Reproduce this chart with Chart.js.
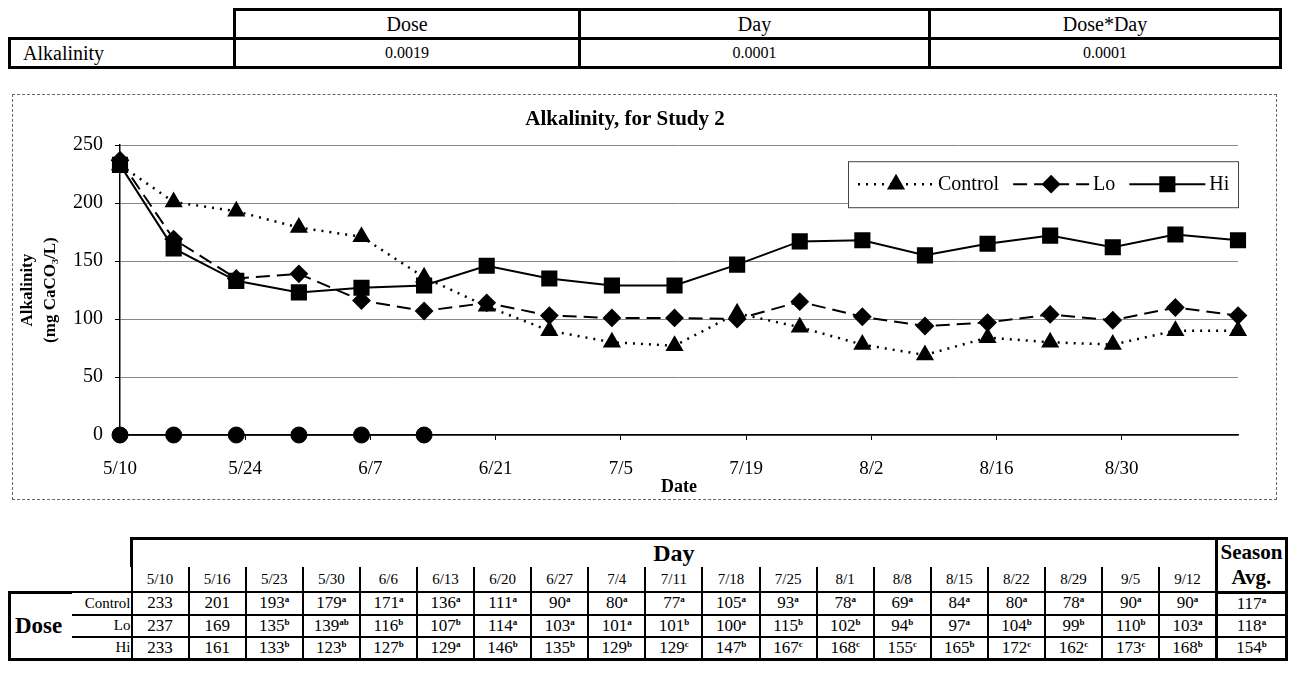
<!DOCTYPE html>
<html>
<head>
<meta charset="utf-8">
<script src="https://cdn.jsdelivr.net/npm/chart.js@4.4.1/dist/chart.umd.min.js"></script>
<style>
  body { margin: 0; width: 1290px; height: 688px; background: #fff; color: #000;
         font-family: "Liberation Serif", "Times New Roman", serif; position: relative; overflow: hidden; }
  #anova { position: absolute; left: 8px; top: 8px; width: 1274px; border-collapse: collapse; table-layout: fixed; }
  #anova td, #anova th { border: 3px solid #000; height: 26px; padding: 0; text-align: center; font-weight: normal; }
  #anova th { font-size: 20px; }
  #anova td { font-size: 16px; }
  #anova td.lbl { font-size: 20px; text-align: left; padding-left: 12px; }
  #anova td.blank { border: none; }
  #frame { position: absolute; left: 12px; top: 94px; width: 1265px; height: 406px;
           border: 1px dashed #666; box-sizing: border-box; }
  #wrap { position: absolute; left: 12px; top: 94px; width: 1265px; height: 406px; }
  #means { position: absolute; left: 8px; top: 537px; width: 1280px; border-collapse: collapse; table-layout: fixed; }
  #means td { padding: 0; text-align: center; font-size: 17px; border: 2px solid #000; height: 20px; white-space: nowrap; }
  #means td.none { border: none; }
  #means td.day { font-size: 24px; font-weight: bold; border: 3px solid #000; border-bottom: none; height: 26px; }
  #means td.dt { font-size: 15px; height: 24px; border-top: none; }
  #means td.season { font-size: 21px; font-weight: bold; border: 3px solid #000; line-height: 25px; }
  #means td.dose { font-size: 23px; font-weight: bold; text-align: left; padding-left: 4px; border: 3px solid #000; border-right: none; }
  #means td.rl { text-align: right; font-size: 15px; border-left: none; }
  #means td.avg { border-left: 3px solid #000; border-right: 3px solid #000; }
  #means tr.last td { border-bottom: 3px solid #000; }
  #means sup { font-size: 9px; font-weight: bold; vertical-align: 6px; line-height: 0; }
</style>
</head>
<body>
<table id="anova"></table>
<div id="frame"></div>
<div id="wrap"><canvas id="chart" width="1265" height="406"></canvas></div>
<table id="means"></table>
<script>
// p-values table
var anovaCols = ["Dose", "Day", "Dose*Day"];
var anovaVals = ["0.0019", "0.0001", "0.0001"];

// sampling dates and days since 5/10
var dateLabels = ["5/10", "5/16", "5/23", "5/30", "6/6", "6/13", "6/20", "6/27", "7/4", "7/11",
                  "7/18", "7/25", "8/1", "8/8", "8/15", "8/22", "8/29", "9/5", "9/12"];
var days = [0, 6, 13, 20, 27, 34, 41, 48, 55, 62, 69, 76, 83, 90, 97, 104, 111, 118, 125];

var control = [233, 201, 193, 179, 171, 136, 111, 90, 80, 77, 105, 93, 78, 69, 84, 80, 78, 90, 90];
var lo      = [237, 169, 135, 139, 116, 107, 114, 103, 101, 101, 100, 115, 102, 94, 97, 104, 99, 110, 103];
var hi      = [233, 161, 133, 123, 127, 129, 146, 135, 129, 129, 147, 167, 168, 155, 165, 172, 162, 173, 168];
var zeros   = [0, 0, 0, 0, 0, 0];

var controlSig = ["", "", "a", "a", "a", "a", "a", "a", "a", "a", "a", "a", "a", "a", "a", "a", "a", "a", "a"];
var loSig      = ["", "", "b", "ab", "b", "b", "a", "a", "a", "b", "a", "b", "b", "b", "a", "b", "b", "b", "a"];
var hiSig      = ["", "", "b", "b", "b", "a", "b", "b", "b", "c", "b", "c", "c", "c", "b", "c", "c", "c", "b"];
var seasonAvg  = [117, 118, 154];
var seasonSig  = ["a", "a", "b"];

// x ticks every two weeks
var tickDays = [0, 14, 28, 42, 56, 70, 84, 98, 112];
var tickLabels = ["5/10", "5/24", "6/7", "6/21", "7/5", "7/19", "8/2", "8/16", "8/30"];

// ---- top table
var t = document.getElementById("anova");
t.innerHTML =
  '<colgroup><col style="width:225px"><col style="width:345px"><col style="width:350px"><col></colgroup>' +
  '<tr><td class="blank"></td>' + anovaCols.map(c => "<th>" + c + "</th>").join("") + "</tr>" +
  '<tr><td class="lbl">Alkalinity</td>' + anovaVals.map(v => "<td>" + v + "</td>").join("") + "</tr>";

// ---- bottom table
var rows = [["Control", control, controlSig], ["Lo", lo, loSig], ["Hi", hi, hiSig]];
var html = '<colgroup><col style="width:62px"><col style="width:60px">' +
  dateLabels.map(() => '<col style="width:57.1px">').join("") + '<col></colgroup>';
html += '<tr><td class="none"></td><td class="none"></td><td class="day" colspan="' + dateLabels.length +
  '">Day</td><td class="season" rowspan="2">Season<br>Avg.</td></tr>';
html += '<tr><td class="none"></td><td class="none"></td>' + dateLabels.map(d => '<td class="dt">' + d + "</td>").join("") + "</tr>";
rows.forEach((r, i) => {
  html += '<tr' + (i == 2 ? ' class="last"' : "") + '>';
  if (i == 0) html += '<td class="dose" rowspan="3">Dose</td>';
  html += '<td class="rl">' + r[0] + "</td>";
  r[1].forEach((v, j) => { html += "<td>" + v + (r[2][j] ? "<sup>" + r[2][j] + "</sup>" : "") + "</td>"; });
  html += '<td class="avg">' + seasonAvg[i] + "<sup>" + seasonSig[i] + "</sup></td></tr>";
});
document.getElementById("means").innerHTML = html;

// ---- chart
var serif = "'Liberation Serif', 'Times New Roman', serif";
function pts(vals) { return vals.map((v, i) => ({ x: days[i], y: v })); }

var legendBox = {
  id: "legendBox",
  afterDraw(chart) {
    var ctx = chart.ctx, a = chart.chartArea;
    var boxR = a.right, boxT = a.top + 16, boxW = 390, boxH = 46, boxL = boxR - boxW;
    ctx.save();
    ctx.fillStyle = "#fff";
    ctx.fillRect(boxL, boxT, boxW, boxH);
    ctx.strokeStyle = "#444";
    ctx.lineWidth = 1;
    ctx.strokeRect(boxL + 0.5, boxT + 0.5, boxW, boxH);
    ctx.font = "20px " + serif;
    ctx.textBaseline = "middle";
    var cy = boxT + boxH / 2, x = boxL + 10;
    chart.data.datasets.filter(d => d.inLegend).forEach(d => {
      ctx.strokeStyle = "#000";
      ctx.lineWidth = d.borderWidth;
      ctx.setLineDash(d.borderDash || []);
      ctx.beginPath(); ctx.moveTo(x, cy); ctx.lineTo(x + 76, cy); ctx.stroke();
      ctx.setLineDash([]);
      ctx.fillStyle = "#000";
      Chart.helpers.drawPoint(ctx, { pointStyle: d.pointStyle, radius: d.pointRadius, rotation: 0, borderWidth: 1 }, x + 38, cy);
      ctx.fill();
      ctx.fillText(d.label, x + 80, cy + 1);
      x += 80 + ctx.measureText(d.label).width + 14;
    });
    ctx.restore();
  }
};

new Chart("chart", {
  type: "line",
  data: {
    datasets: [
      { label: "Control", inLegend: true, data: pts(control), borderColor: "#000", backgroundColor: "#000",
        borderWidth: 2.5, borderDash: [2, 6], pointStyle: "triangle", pointRadius: 8, clip: false },
      { label: "Lo", inLegend: true, data: pts(lo), borderColor: "#000", backgroundColor: "#000",
        borderWidth: 2, borderDash: [14, 7], pointStyle: "rectRot", pointRadius: 8, clip: false },
      { label: "Hi", inLegend: true, data: pts(hi), borderColor: "#000", backgroundColor: "#000",
        borderWidth: 2, pointStyle: "rect", pointRadius: 10, clip: false },
      { label: "0", data: pts(zeros), borderColor: "#000", backgroundColor: "#000",
        borderWidth: 1, pointStyle: "circle", pointRadius: 8, clip: false }
    ]
  },
  options: {
    responsive: false,
    animation: false,
    events: [],
    layout: { padding: { left: 0, right: 39, top: 0, bottom: 0 } },
    plugins: {
      legend: { display: false },
      tooltip: { enabled: false },
      title: {
        display: true, text: "Alkalinity, for Study 2", color: "#000",
        font: { family: serif, size: 21, weight: "bold", lineHeight: 1.2 },
        padding: { top: 13, bottom: 13 }
      }
    },
    scales: {
      x: {
        type: "linear", min: 0, max: 125,
        afterBuildTicks: (s) => { s.ticks = tickDays.map(v => ({ value: v })); },
        afterFit: (s) => { s.height = 65; },
        ticks: { callback: (v) => tickLabels[tickDays.indexOf(v)], color: "#000", padding: 18,
                 maxRotation: 0, autoSkip: false, font: { family: serif, size: 19 } },
        grid: { drawOnChartArea: false, tickLength: 5, tickColor: "#000" },
        border: { color: "#000", width: 1.5 },
        title: { display: true, text: "Date", color: "#000", padding: { top: 0, bottom: 2 },
                 font: { family: serif, size: 18, weight: "bold", lineHeight: 1.2 } }
      },
      y: {
        min: 0, max: 250,
        afterFit: (s) => { s.width = 108; },
        ticks: { stepSize: 50, color: "#000", padding: 12, font: { family: serif, size: 20 } },
        grid: { color: "#888", tickLength: 5, tickColor: "#000" },
        border: { color: "#000", width: 1.5 },
        title: { display: true, text: ["Alkalinity", "(mg CaCO\u2083/L)"], color: "#000", padding: { top: 5 },
                 font: { family: serif, size: 17, weight: "bold", lineHeight: 1.3 } }
      }
    }
  },
  plugins: [legendBox]
});
</script>
</body>
</html>
